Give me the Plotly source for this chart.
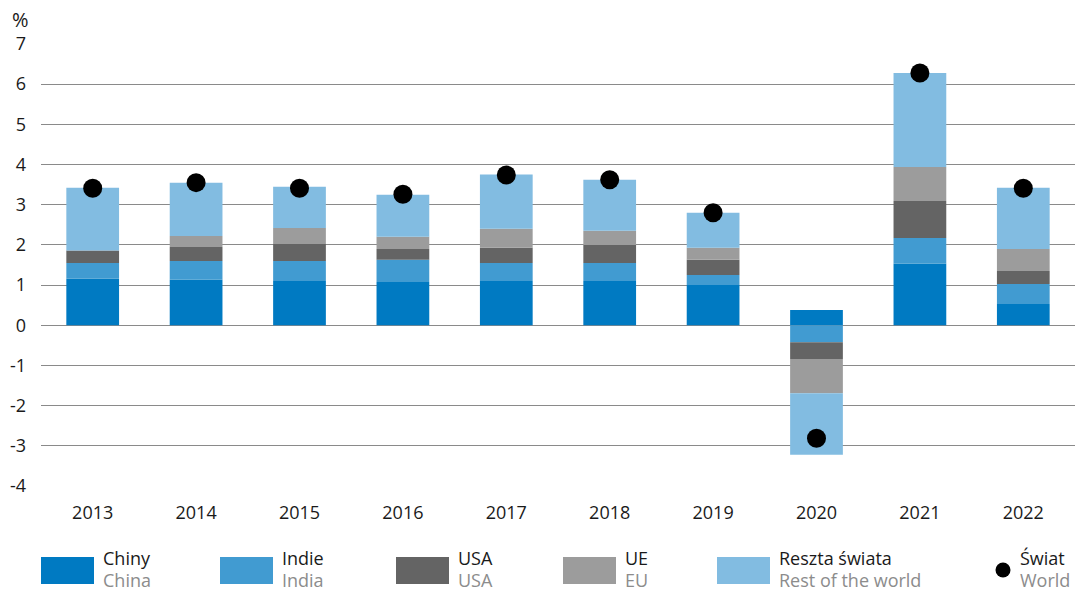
import plotly.graph_objects as go

years = ["2013", "2014", "2015", "2016", "2017", "2018", "2019", "2020", "2021", "2022"]
china = [1.16, 1.13, 1.10, 1.08, 1.10, 1.10, 1.00, 0.38, 1.53, 0.53]
india = [0.39, 0.47, 0.50, 0.55, 0.45, 0.45, 0.25, -0.42, 0.64, 0.50]
usa = [0.31, 0.35, 0.42, 0.27, 0.38, 0.45, 0.38, -0.42, 0.92, 0.32]
eu = [0.00, 0.27, 0.40, 0.30, 0.47, 0.35, 0.30, -0.85, 0.85, 0.55]
rest = [1.56, 1.33, 1.03, 1.05, 1.35, 1.27, 0.87, -1.53, 2.34, 1.52]
world = [3.41, 3.55, 3.41, 3.26, 3.74, 3.62, 2.80, -2.81, 6.28, 3.41]

names_pl = ["Chiny", "Indie", "USA", "UE", "Reszta świata", "Świat"]
names_en = ["China", "India", "USA", "EU", "Rest of the world", "World"]
colors = ["#007AC2", "#419BD1", "#646464", "#9C9C9C", "#82BCE1", "#000000"]
yticks = [-4, -3, -2, -1, 0, 1, 2, 3, 4, 5, 6, 7]

W, H = 1077, 593
ML, MR, MT, MB = 41, 2, 44, 107
PW, PH = W - ML - MR, H - MT - MB

def px(x):
    return (x - ML) / PW

def py(y):
    return (H - MB - y) / PH

fig = go.Figure()
series = [china, india, usa, eu, rest]
for vals, name, col in zip(series, names_pl, colors):
    fig.add_trace(go.Bar(x=years, y=vals, name=name, marker=dict(color=col, line=dict(width=0)),
                         width=0.51, showlegend=False))
fig.add_trace(go.Scatter(x=years, y=world, mode="markers", name=names_pl[5],
                         marker=dict(color="#000000", size=19), showlegend=False))

fnt = "Open Sans, Noto Sans, sans-serif"
fig.update_layout(
    width=W, height=H,
    margin=dict(l=ML, r=MR, t=MT, b=MB, autoexpand=False),
    barmode="relative",
    bargap=0.49,
    plot_bgcolor="white", paper_bgcolor="white",
    font=dict(family=fnt, size=18, color="#1a1a1a"),
    xaxis=dict(showgrid=False, showline=False, zeroline=False, ticks="", automargin=False,
               range=[-0.5, 9.5],
               tickfont=dict(size=18, color="#1a1a1a"), ticklabelstandoff=14),
    yaxis=dict(range=[-4, 7], tickvals=yticks, ticktext=[str(v) for v in yticks],
               showgrid=True, gridcolor="#8a8a8a", gridwidth=1.3, automargin=False,
               zeroline=True, zerolinecolor="#8a8a8a", zerolinewidth=1.3,
               showline=False, ticks="", ticklabelstandoff=14,
               tickfont=dict(size=18, color="#1a1a1a")),
)

fig.add_annotation(text="%", xref="paper", yref="paper", x=px(20), y=py(20),
                   xanchor="center", yanchor="middle", showarrow=False,
                   font=dict(size=20, color="#1a1a1a"))

def legend_text(x_left, pl, en):
    fig.add_annotation(text=pl, xref="paper", yref="paper", x=px(x_left), y=py(571),
                       xanchor="left", yanchor="bottom", showarrow=False, borderpad=0,
                       font=dict(size=18, color="#1a1a1a"))
    fig.add_annotation(text=en, xref="paper", yref="paper", x=px(x_left), y=py(593),
                       xanchor="left", yanchor="bottom", showarrow=False, borderpad=0,
                       font=dict(size=18, color="#8c8c8c"))

rect_x = [41, 220, 396, 563, 717]
for i in range(5):
    x0 = rect_x[i]
    fig.add_shape(type="rect", xref="paper", yref="paper",
                  x0=px(x0), x1=px(x0 + 53), y0=py(584), y1=py(557),
                  fillcolor=colors[i], line=dict(width=0))
    legend_text(x0 + 61, names_pl[i], names_en[i])
fig.add_shape(type="circle", xref="paper", yref="paper",
              x0=px(995.5), x1=px(1010.5), y0=py(577.5), y1=py(562.5),
              fillcolor="#000000", line=dict(width=0))
legend_text(1019, names_pl[5], names_en[5])

fig.write_html("out.html", config={"displayModeBar": False},
               post_script="document.body.style.margin='0';document.body.style.overflow='hidden';")
